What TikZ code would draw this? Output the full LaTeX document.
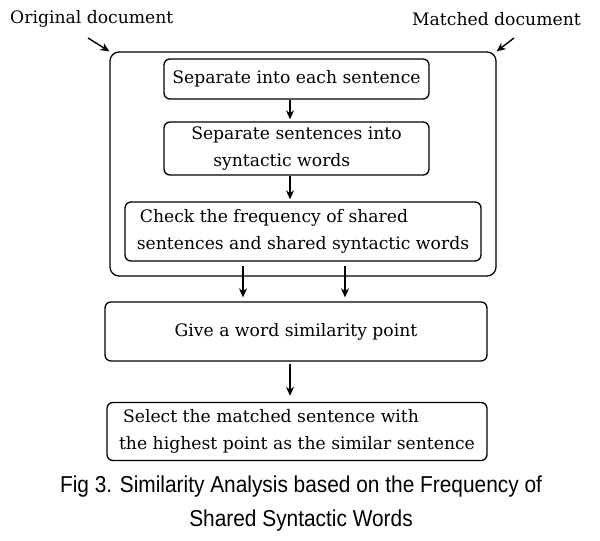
\documentclass[tikz,border=0pt]{standalone}
\usepackage{fontspec}
\setmainfont{DejaVu Serif}
\newfontfamily\capfont{Liberation Sans}
\usetikzlibrary{arrows.meta}
\begin{document}
\begin{tikzpicture}[x=1pt,y=-1pt,
  box/.style={draw,line width=1.3pt,rounded corners=6pt,inner sep=0pt,font=\fontsize{17.2}{27}\selectfont},
  arr/.style={line width=1.4pt,-{Stealth[length=9pt,width=8pt]}},
  lbl/.style={inner sep=0pt,font=\fontsize{17.2}{24}\selectfont}]
\useasboundingbox (0,0) rectangle (600,541);
\node[box,minimum width=386pt,minimum height=224pt,rounded corners=9pt] (outer) at (303,164) {};
\node[box,minimum width=265pt,minimum height=40pt] (b1) at (296.5,79) {Separate into each sentence};
\node[box,minimum width=265pt,minimum height=53pt,align=left] (b2) at (296.5,148.5) {Separate sentences into\\\hspace*{22pt}syntactic words};
\node[box,minimum width=356pt,minimum height=59pt,align=left] (b3) at (303,231.5) {\hspace*{3pt}Check the frequency of shared\\sentences and shared syntactic words};
\node[box,minimum width=382pt,minimum height=59pt] (b4) at (296,331.5) {Give a word similarity point};
\node[box,minimum width=380pt,minimum height=58pt,align=left] (b5) at (297,431.5) {\hspace*{4pt}Select the matched sentence with\\the highest point as the similar sentence};
\node[lbl,anchor=west] (orig) at (10,19) {Original document};
\node[lbl,anchor=east] (match) at (581,19) {Matched document};
\coordinate (oa) at (88,38);
\coordinate (ma) at (514,38);
\draw[arr] (oa) -- (outer.north west);
\draw[arr] (ma) -- (outer.north east);
\coordinate (x1) at (290,0);
\coordinate (xl) at (243,0);
\coordinate (xr) at (345,0);
\draw[arr,shorten >=2pt] (b1.south -| x1) -- (b2.north -| x1);
\draw[arr,shorten >=2pt] (b2.south -| x1) -- (b3.north -| x1);
\draw[arr,shorten <=4pt,shorten >=4pt] (b3.south -| xl) -- (b4.north -| xl);
\draw[arr,shorten <=4pt,shorten >=4pt] (b3.south -| xr) -- (b4.north -| xr);
\draw[arr,shorten <=2pt,shorten >=6pt] (b4.south -| x1) -- (b5.north -| x1);
\node[inner sep=0pt,align=center,font=\capfont\fontsize{23}{34}\selectfont] (cap) at (301,504)
  {\scalebox{0.907}[1]{Fig 3. Similarity Analysis based on the Frequency of}\\\scalebox{0.907}[1]{Shared Syntactic Words}};
\end{tikzpicture}
\end{document}
